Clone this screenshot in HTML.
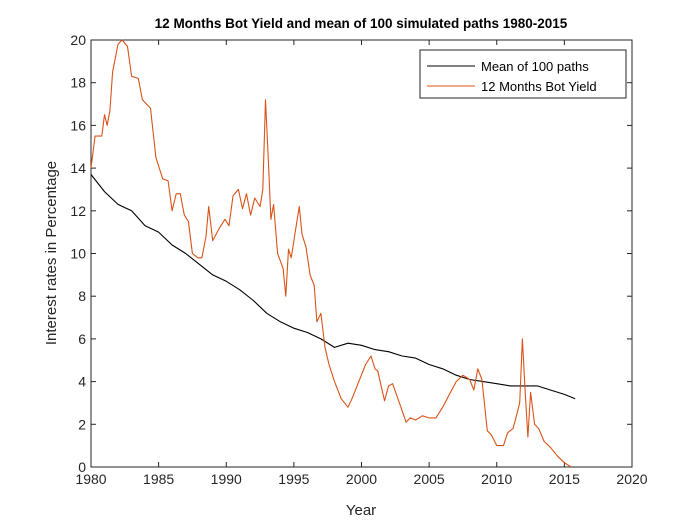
<!DOCTYPE html>
<html><head><meta charset="utf-8"><style>
body{margin:0;background:#fff;}
svg{display:block;font-family:"Liberation Sans",Arial,sans-serif;}
</style></head><body>
<svg id="chart" width="700" height="525">
<rect width="700" height="525" fill="#fff"/>
<text x="361" y="28" text-anchor="middle" font-weight="bold" font-size="13.5">12 Months Bot Yield and mean of 100 simulated paths 1980-2015</text>
<g id="axes"></g>
<g id="series"></g>
<text x="361" y="515" text-anchor="middle" font-size="15" fill="#262626">Year</text>
<text transform="translate(56,253) rotate(-90)" text-anchor="middle" font-size="15" fill="#262626">Interest rates in Percentage</text>
<g>
<rect x="420" y="50" width="206" height="48" fill="#fff" stroke="#262626" stroke-width="1"/>
<line x1="427" y1="66" x2="475" y2="66" stroke="#000" stroke-width="1"/>
<text x="481" y="71" font-size="13">Mean of 100 paths</text>
<line x1="427" y1="86" x2="475" y2="86" stroke="#d95319" stroke-width="1"/>
<text x="481" y="91" font-size="13">12 Months Bot Yield</text>
</g>
</svg>
<script>
const xTicks=[1980,1985,1990,1995,2000,2005,2010,2015,2020];
const yTicks=[0,2,4,6,8,10,12,14,16,18,20];
const yieldYears=[1980.0,1980.3,1980.8,1981.0,1981.2,1981.4,1981.6,1982.0,1982.3,1982.7,1983.0,1983.5,1983.8,1984.4,1984.8,1985.3,1985.7,1986.0,1986.3,1986.6,1986.9,1987.2,1987.5,1987.9,1988.2,1988.5,1988.7,1989.0,1989.5,1989.9,1990.2,1990.5,1990.9,1991.2,1991.5,1991.8,1992.1,1992.5,1992.7,1992.9,1993.1,1993.3,1993.5,1993.8,1994.2,1994.4,1994.6,1994.8,1995.0,1995.1,1995.4,1995.6,1995.9,1996.2,1996.5,1996.7,1997.0,1997.3,1997.6,1998.0,1998.5,1999.0,1999.3,1999.8,2000.3,2000.7,2001.0,2001.2,2001.7,2002.0,2002.3,2002.8,2003.3,2003.6,2004.0,2004.5,2005.0,2005.5,2006.0,2006.5,2007.0,2007.5,2008.0,2008.3,2008.6,2008.9,2009.3,2009.6,2010.0,2010.5,2010.8,2011.2,2011.5,2011.7,2011.9,2012.1,2012.3,2012.5,2012.8,2013.1,2013.5,2014.0,2014.5,2015.0,2015.5];
const yieldValues=[14.0,15.5,15.5,16.5,16.0,16.7,18.5,19.8,20,19.7,18.3,18.2,17.2,16.8,14.5,13.5,13.4,12.0,12.8,12.8,11.8,11.5,10.0,9.8,9.8,10.8,12.2,10.6,11.2,11.6,11.3,12.7,13.0,12.1,12.8,11.8,12.6,12.2,13.0,17.2,14.5,11.6,12.3,10.0,9.3,8.0,10.2,9.8,10.6,11.0,12.2,10.9,10.3,9.0,8.5,6.8,7.2,5.6,4.8,4.0,3.2,2.8,3.2,4.0,4.8,5.2,4.6,4.5,3.1,3.8,3.9,3.0,2.1,2.3,2.2,2.4,2.3,2.3,2.8,3.4,4.0,4.3,4.1,3.6,4.6,4.1,1.7,1.5,1.0,1.0,1.6,1.8,2.5,3.0,6.0,3.5,1.4,3.5,2.0,1.8,1.2,0.9,0.5,0.2,0.0];
const meanYears=[1980,1981,1982,1983,1984,1985,1986,1987,1988,1989,1990,1991,1992,1993,1994,1995,1996,1997,1998,1999,2000,2001,2002,2003,2004,2005,2006,2007,2008,2009,2010,2011,2012,2013,2014,2015,2015.8];
const meanValues=[13.7,12.9,12.3,12.0,11.3,11.0,10.4,10.0,9.5,9.0,8.7,8.3,7.8,7.2,6.8,6.5,6.3,6.0,5.6,5.8,5.7,5.5,5.4,5.2,5.1,4.8,4.6,4.3,4.1,4.0,3.9,3.8,3.8,3.8,3.6,3.4,3.2];

const L=91,R=632,T=40,B=467;
const xs=v=>L+(v-1980)/40*(R-L);
const ys=v=>B-v/20*(B-T);
const NS="http://www.w3.org/2000/svg";
const axes=document.getElementById('axes');
function mk(tag,attrs,parent){const e=document.createElementNS(NS,tag);for(const k in attrs)e.setAttribute(k,attrs[k]);parent.appendChild(e);return e;}
const box=mk('rect',{x:L,y:T,width:R-L,height:B-T,fill:'none',stroke:'#262626','stroke-width':1},axes);


xTicks.forEach(t=>{
  const x=xs(t);
  const a=mk('line',{x1:x,y1:B,x2:x,y2:B-5,stroke:'#262626'},axes);
  
  
  const b=mk('line',{x1:x,y1:T,x2:x,y2:T+5,stroke:'#262626'},axes);
  
  
  const tx=mk('text',{x:x,y:B+17,'text-anchor':'middle','font-size':14,fill:'#262626'},axes);
  tx.textContent=t;
  
  
});
yTicks.forEach(t=>{
  const y=ys(t);
  const a=mk('line',{x1:L,y1:y,x2:L+5,y2:y,stroke:'#262626'},axes);
  
  
  const b=mk('line',{x1:R,y1:y,x2:R-5,y2:y,stroke:'#262626'},axes);
  
  
  const tx=mk('text',{x:L-5,y:y+5,'text-anchor':'end','font-size':14,fill:'#262626'},axes);
  tx.textContent=t;
  
  
});
const ser=document.getElementById('series');
function line(xa,va,color,name){
  const d=xa.map((x,i)=>(i?'L':'M')+xs(x).toFixed(1)+','+ys(va[i]).toFixed(1)).join('');
  const p=mk('path',{d:d,fill:'none',stroke:color,'stroke-width':1.1,'stroke-linejoin':'round'},ser);
  
  
}
line(meanYears,meanValues,'#000','mean-line');
line(yieldYears,yieldValues,'#d95319','yield-line');
</script>
</body></html>
